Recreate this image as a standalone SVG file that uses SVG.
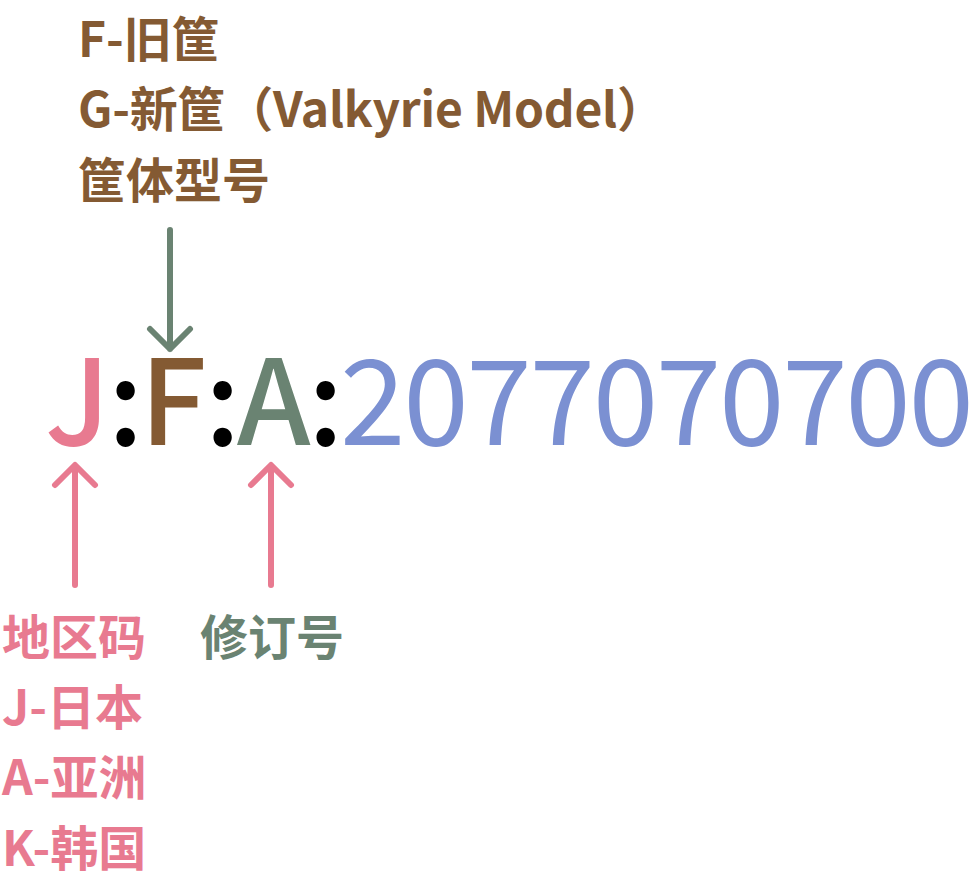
<svg xmlns="http://www.w3.org/2000/svg" width="978" height="886" viewBox="0 0 978 886">
<defs>
<style>
.t{font-family:"Noto Sans CJK SC","Noto Sans",sans-serif;font-weight:700}
.lab{font-size:48px}
.big{font-family:"Noto Sans CJK SC","Noto Sans",sans-serif;font-size:118px;font-weight:500}
.pink{fill:#e87a90}
.brown{fill:#845a33}
.green{fill:#6a8372}
.blue{fill:#7b90d2}
.blk{fill:#000000}
.ln{fill:none;stroke-width:6;stroke-linecap:round;stroke-linejoin:round}
</style>
</defs>
<rect width="978" height="886" fill="#ffffff"/>
<g id="model-label">
<text class="t lab brown" x="78" y="57">F-旧筐</text>
<text class="t lab brown" x="78" y="127" textLength="587" lengthAdjust="spacing">G-新筐（Valkyrie Model）</text>
<text class="t lab brown" x="78" y="198">筐体型号</text>
</g>
<g id="code">
<text class="big" y="445"><tspan class="pink" x="45">J</tspan><tspan class="blk" x="108">:</tspan><tspan class="brown" x="140">F</tspan><tspan class="blk" x="205">:</tspan><tspan class="green" x="237">A</tspan><tspan class="blk" x="308">:</tspan></text>
<text class="big blue" x="340" y="445" style="font-weight:400" textLength="634" lengthAdjust="spacing">2077070700</text>
</g>
<g id="region-label">
<text class="t lab pink" x="2" y="655">地区码</text>
<text class="t lab pink" x="2" y="725">J-日本</text>
<text class="t lab pink" x="2" y="795">A-亚洲</text>
<text class="t lab pink" x="2" y="866">K-韩国</text>
</g>
<g id="revision-label">
<text class="t lab green" x="200" y="655">修订号</text>
</g>
<g id="connectors">
<path class="ln" stroke="#6a8372" d="M170 230V349M150 329L170 349L190 329"/>
<path class="ln" stroke="#e87a90" d="M75 585V466M55 485L75 465L95 485"/>
<path class="ln" stroke="#e87a90" d="M271 585V466M251 485L271 465L291 485"/>
</g>
</svg>
